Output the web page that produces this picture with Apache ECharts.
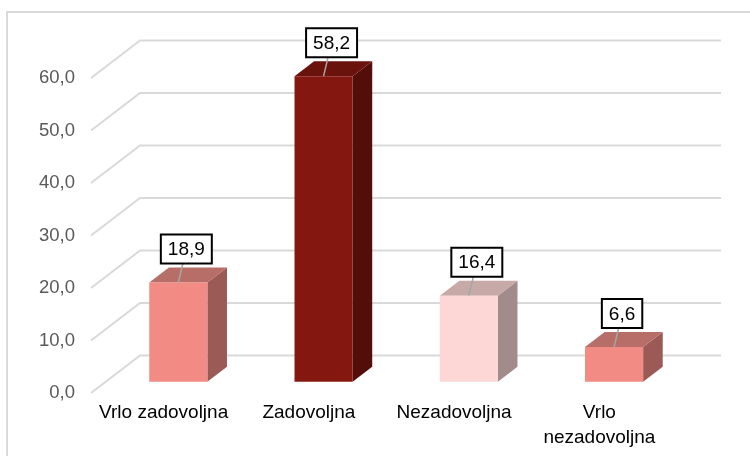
<!DOCTYPE html>
<html>
<head>
<meta charset="utf-8">
<script src="https://cdn.jsdelivr.net/npm/echarts@6/dist/echarts.min.js"></script>
<style>
  html, body { margin: 0; padding: 0; background: #fff; }
  #chart { width: 750px; height: 456px; }
</style>
</head>
<body>
<div id="chart"></div>
<script>
var categories = ['Vrlo zadovoljna', 'Zadovoljna', 'Nezadovoljna', 'Vrlo\nnezadovoljna'];
var values = [18.9, 58.2, 16.4, 6.6];
var yTicks = [0, 10, 20, 30, 40, 50, 60];

// boje: prednja strana, bok, vrh
var faceColors = ['#F28B84', '#841710', '#FDD7D6', '#F28B84'];
var sideColors = ['#9B5A55', '#540E0A', '#A28C8B', '#9B5A55'];
var topColors = ['#B86E68', '#6A130D', '#C7A9A8', '#B86E68'];

var depthX = 49, depthY = -37.5;   // dubina poda (3D pomak)
var font = 'Liberation Sans, Arial, sans-serif';

var myChart = echarts.init(document.getElementById('chart'));

function fmt(v) {
    return v.toFixed(1).replace('.', ',');
}

var option = {
    animation: false,
    backgroundColor: '#fff',
    graphic: [{
        type: 'rect',
        shape: { x: 7, y: 12, width: 800, height: 500 },
        style: { fill: 'none', stroke: '#D9D9D9', lineWidth: 2 },
        silent: true
    }],
    grid: { left: 91, right: 78, top: 78, bottom: 63 },
    xAxis: {
        type: 'category',
        data: categories,
        axisLine: { show: false },
        axisTick: { show: false },
        axisLabel: {
            interval: 0,
            margin: 7,
            color: '#000',
            fontSize: 19,
            lineHeight: 25,
            fontFamily: font
        }
    },
    yAxis: {
        type: 'value',
        min: 0,
        max: 60,
        interval: 10,
        axisLine: { show: false },
        axisTick: { show: false },
        splitLine: { show: false },
        axisLabel: {
            margin: 16,
            color: '#595959',
            fontSize: 18.5,
            fontFamily: font,
            formatter: function (v) { return fmt(v); }
        }
    },
    series: [
        {
            // zidovi s linijama mreže
            type: 'custom',
            silent: true,
            data: yTicks.map(function (t) { return [0, t]; }),
            encode: { x: 0, y: 1 },
            renderItem: function (params, api) {
                var cs = params.coordSys;
                var p = api.coord([0, api.value(1)]);
                var x0 = cs.x, y = p[1];
                return {
                    type: 'polyline',
                    shape: {
                        points: [[x0, y], [x0 + depthX, y + depthY], [x0 + cs.width + depthX, y + depthY]]
                    },
                    style: { stroke: '#D9D9D9', lineWidth: 2, fill: 'none' }
                };
            },
            z: 1
        },
        {
            type: 'custom',
            data: values.map(function (v, i) { return [i, v]; }),
            encode: { x: 0, y: 1 },
            renderItem: function (params, api) {
                var i = api.value(0);
                var v = api.value(1);
                var top = api.coord([i, v]);
                var base = api.coord([i, 0]);
                var band = api.size([1, 0])[0];
                var w = band * 0.4;
                var fx = depthX * 0.3, fy = depthY * 0.3;
                var dx = depthX * 0.4, dy = depthY * 0.4;
                var cx = top[0] + fx;
                var xl = cx - w / 2, xr = cx + w / 2;
                var yt = top[1] + fy, yb = base[1] + fy;
                return {
                    type: 'group',
                    children: [
                        {
                            type: 'polygon',
                            shape: { points: [[xr, yt], [xr + dx, yt + dy], [xr + dx, yb + dy], [xr, yb]] },
                            style: { fill: sideColors[i] }
                        },
                        {
                            type: 'polygon',
                            shape: { points: [[xl, yt], [xl + dx, yt + dy], [xr + dx, yt + dy], [xr, yt]] },
                            style: { fill: topColors[i] }
                        },
                        {
                            type: 'rect',
                            shape: { x: xl, y: yt, width: w, height: yb - yt },
                            style: { fill: faceColors[i] }
                        },
                        {
                            type: 'line',
                            shape: { x1: cx, y1: yt, x2: cx + 5, y2: yt - 21 },
                            style: { stroke: '#A6A6A6', lineWidth: 1.5 }
                        },
                        {
                            type: 'text',
                            x: cx + 8,
                            y: yt - 20,
                            style: {
                                text: fmt(v),
                                fill: '#000',
                                font: '19px ' + font,
                                align: 'center',
                                verticalAlign: 'bottom',
                                backgroundColor: '#fff',
                                borderColor: '#000',
                                borderWidth: 2,
                                padding: [5, 6, 3, 6]
                            }
                        }
                    ]
                };
            },
            z: 2
        }
    ]
};

myChart.setOption(option);
</script>
</body>
</html>
